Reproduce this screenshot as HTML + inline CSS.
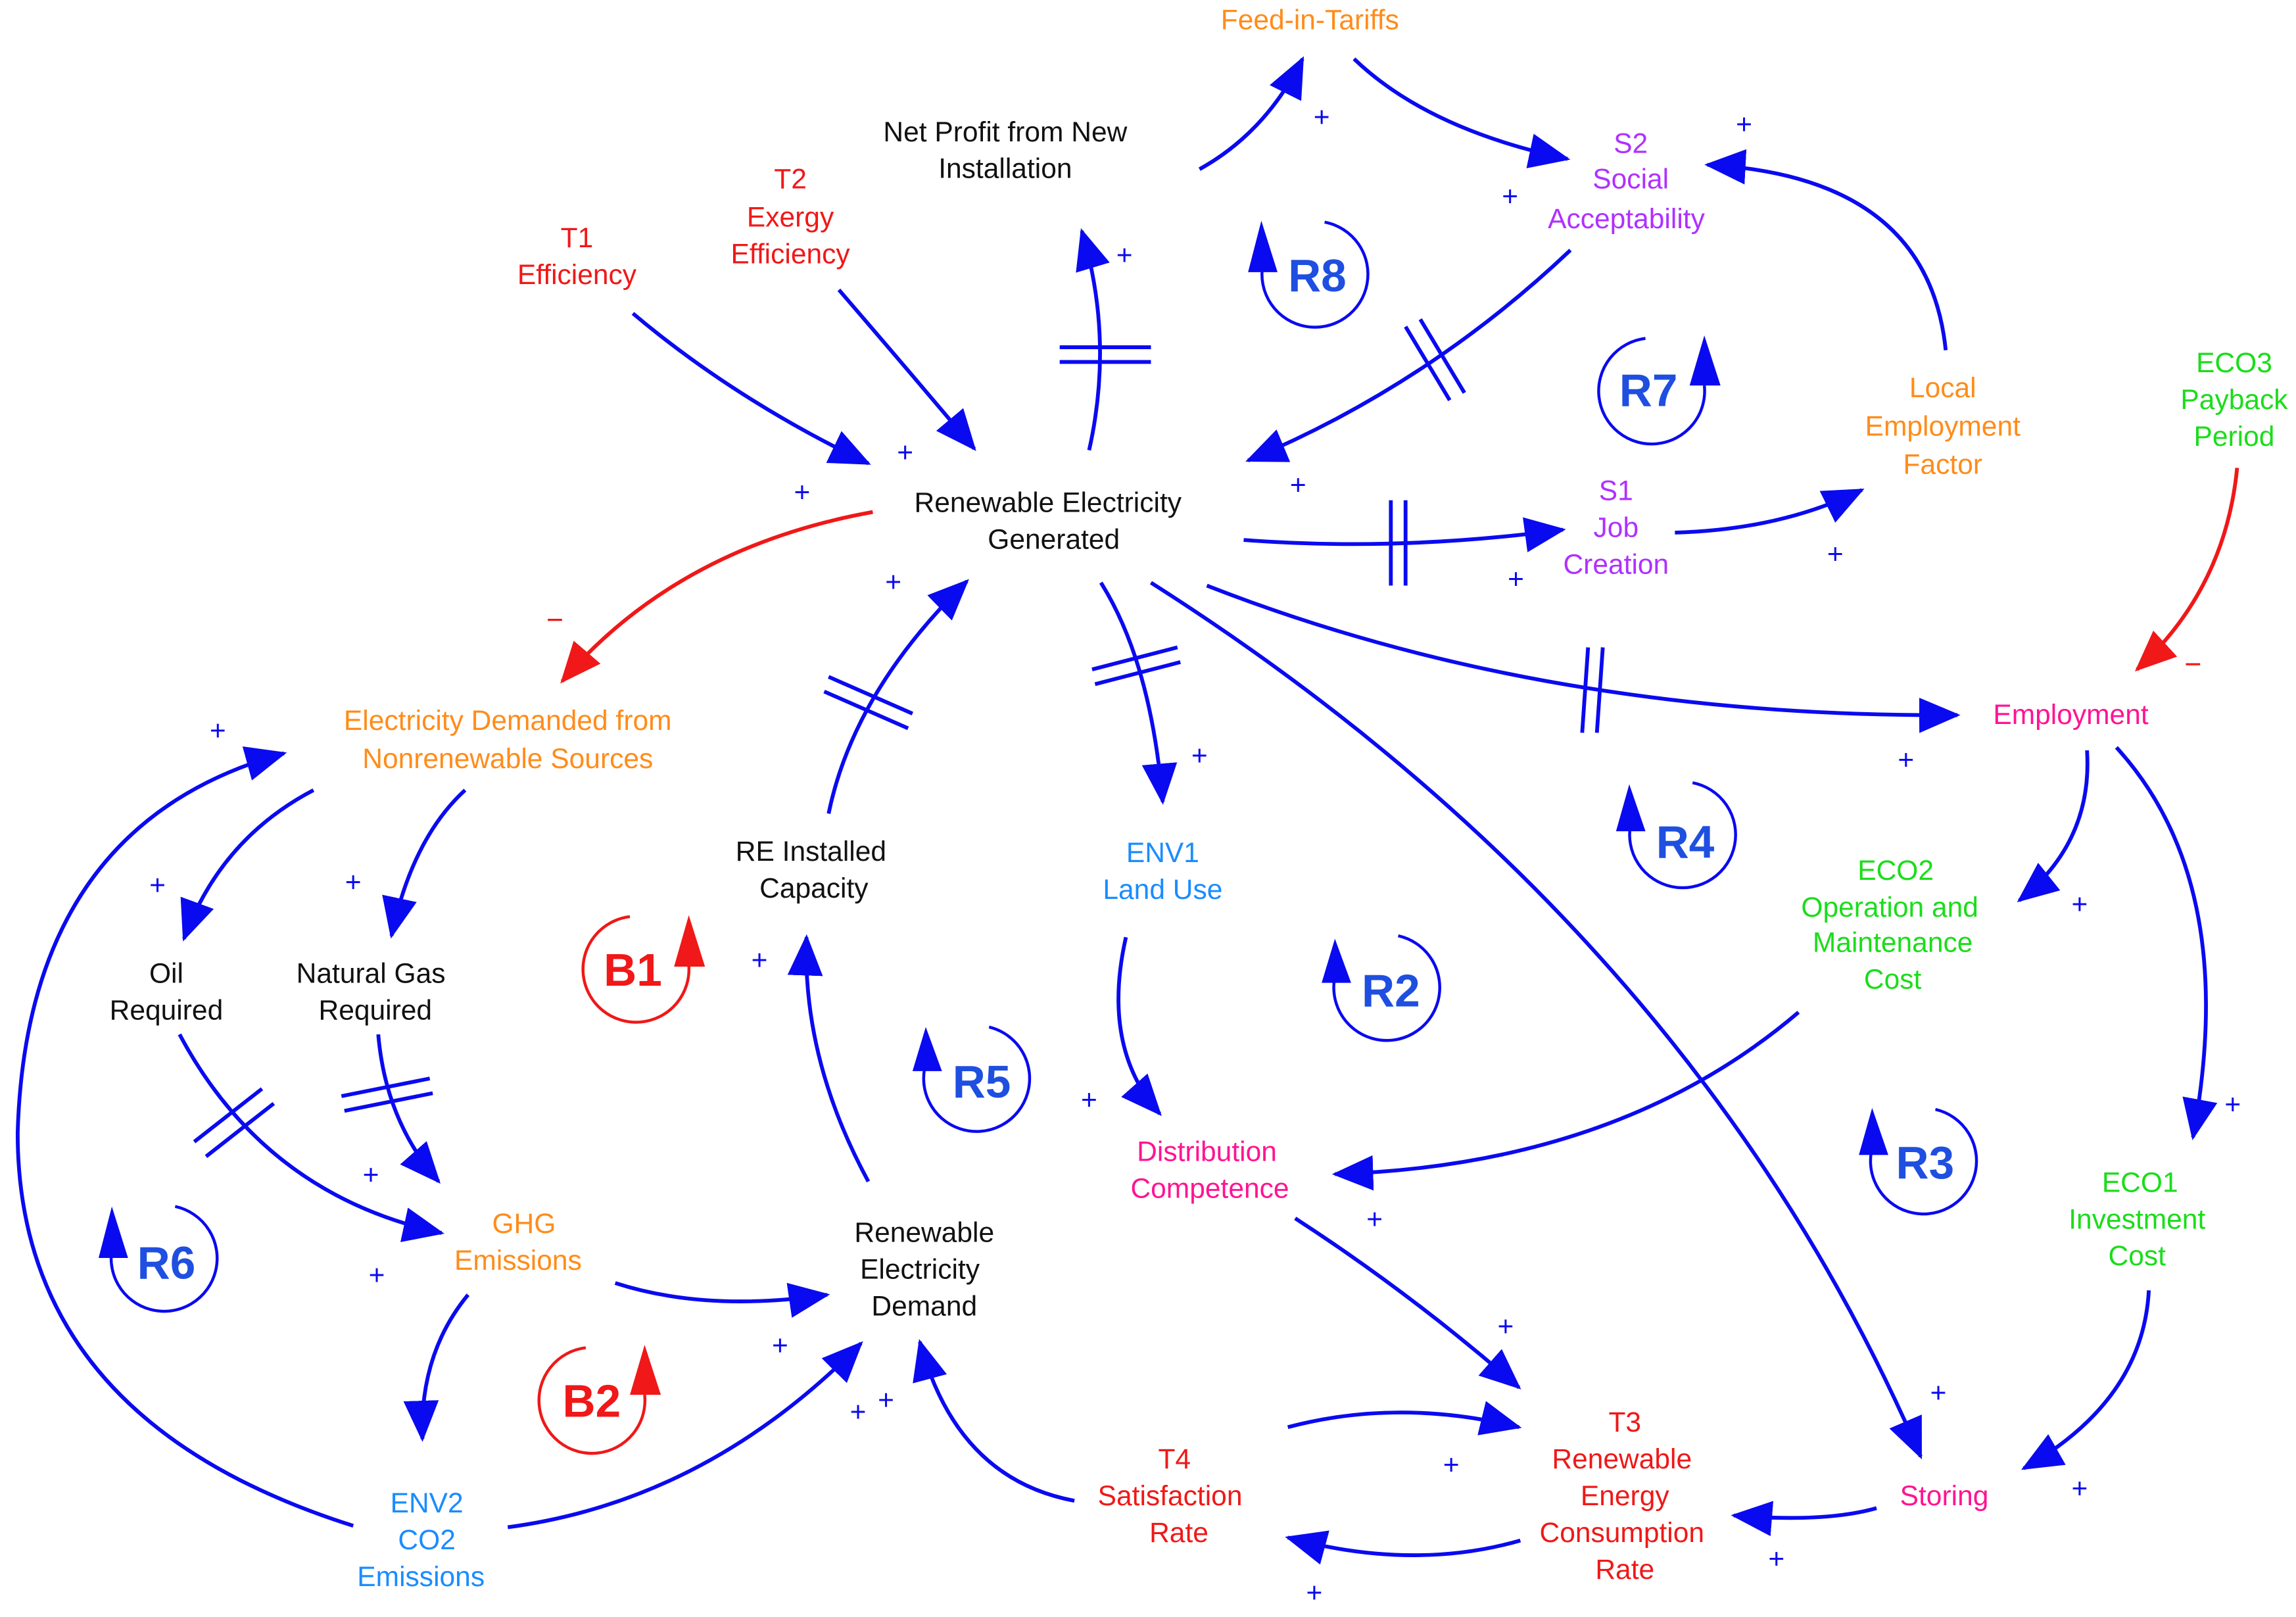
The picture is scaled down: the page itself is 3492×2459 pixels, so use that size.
<!DOCTYPE html>
<html><head><meta charset="utf-8"><style>
html,body{margin:0;padding:0;background:#fff;}
svg{display:block;}
text{font-family:"Liberation Sans",sans-serif;font-size:19px;text-anchor:middle;}
.bk{fill:#111}.or{fill:#ff8c1a}.rd{fill:#f01818}.pu{fill:#b030ff}.gr{fill:#1add1a}.bl{fill:#1a8cff}.mg{fill:#ff1493}
.e{fill:none;stroke:#0a0af0;stroke-width:2.6;marker-end:url(#ah);}
.er{fill:none;stroke:#f01818;stroke-width:2.6;marker-end:url(#ahr);}
.bar{stroke:#0a0af0;stroke-width:2.6;}
.p{fill:#0a0af0;font-size:19px;}
.lp{font-size:31px;font-weight:bold;}
.lc{fill:none;stroke-width:2;}
</style></head><body>
<svg width="3492" height="2459" viewBox="0 0 1560 1099" preserveAspectRatio="none" xmlns="http://www.w3.org/2000/svg">
<defs>
<marker id="ah" markerUnits="userSpaceOnUse" markerWidth="30" markerHeight="24" refX="26" refY="12" orient="auto"><path d="M0,0 L28,12 L0,24 Z" fill="#0a0af0"/></marker>
<marker id="ahr" markerUnits="userSpaceOnUse" markerWidth="30" markerHeight="24" refX="26" refY="12" orient="auto"><path d="M0,0 L28,12 L0,24 Z" fill="#f01818"/></marker>
</defs>

<!-- edges -->
<path class="e" d="M815,115 Q860,90 885,40"/>
<path class="e" d="M920,40 Q970,88 1065,108"/>
<path class="e" d="M1322,238 Q1310,120 1160,112"/>
<path class="e" d="M1067,170 Q970,262 848,313"/>
<path class="e" d="M430,213 Q500,272 590,315"/>
<path class="e" d="M570,197 Q620,255 662,305"/>
<path class="e" d="M740,306 Q757,230 735,157"/>
<path class="e" d="M845,367 Q950,375 1062,360"/>
<path class="e" d="M1138,362 Q1210,360 1265,333"/>
<path class="er" d="M1520,318 Q1512,400 1452,455"/>
<path class="e" d="M820,398 Q1050,488 1330,486"/>
<path class="er" d="M593,348 Q460,372 382,463"/>
<path class="e" d="M748,396 Q782,450 790,545"/>
<path class="e" d="M782,396 Q1150,630 1305,990"/>
<path class="e" d="M563,553 Q580,470 657,395"/>
<path class="e" d="M590,803 Q545,720 548,637"/>
<path class="e" d="M213,537 Q150,570 125,638"/>
<path class="e" d="M316,537 Q280,570 266,636"/>
<path class="e" d="M122,703 Q180,812 300,838"/>
<path class="e" d="M257,703 Q262,762 298,803"/>
<path class="e" d="M418,872 Q480,892 562,880"/>
<path class="e" d="M318,880 Q285,920 287,978"/>
<path class="e" d="M240,1037 Q12,965 12,770 Q18,560 193,512"/>
<path class="e" d="M345,1038 Q480,1020 585,913"/>
<path class="e" d="M765,637 Q748,712 788,757"/>
<path class="e" d="M1222,688 Q1100,792 907,798"/>
<path class="e" d="M880,828 Q960,880 1032,943"/>
<path class="e" d="M1418,510 Q1422,572 1372,612"/>
<path class="e" d="M1438,508 Q1522,600 1490,773"/>
<path class="e" d="M1460,877 Q1456,952 1375,998"/>
<path class="e" d="M1275,1025 Q1240,1035 1178,1030"/>
<path class="e" d="M1033,1047 Q960,1068 875,1045"/>
<path class="e" d="M875,970 Q950,950 1032,970"/>
<path class="e" d="M730,1020 Q650,1005 625,912"/>

<!-- delay bars -->
<line class="bar" x1="720" y1="236" x2="782" y2="236"/><line class="bar" x1="720" y1="246" x2="782" y2="246"/>
<line class="bar" x1="955" y1="222" x2="985" y2="272"/><line class="bar" x1="965" y1="217" x2="995" y2="267"/>
<line class="bar" x1="945" y1="340" x2="945" y2="398"/><line class="bar" x1="955" y1="340" x2="955" y2="398"/>
<line class="bar" x1="1079" y1="440" x2="1075" y2="498"/><line class="bar" x1="1089" y1="440" x2="1085" y2="498"/>
<line class="bar" x1="742" y1="455" x2="800" y2="440"/><line class="bar" x1="744" y1="465" x2="802" y2="450"/>
<line class="bar" x1="563" y1="460" x2="620" y2="485"/><line class="bar" x1="560" y1="470" x2="617" y2="495"/>
<line class="bar" x1="132" y1="776" x2="178" y2="740"/><line class="bar" x1="140" y1="786" x2="186" y2="750"/>
<line class="bar" x1="232" y1="745" x2="292" y2="733"/><line class="bar" x1="234" y1="755" x2="294" y2="743"/>

<!-- node labels -->
<text class="or" x="890" y="20">Feed-in-Tariffs</text>
<text class="bk" x="683" y="96">Net Profit from New</text><text class="bk" x="683" y="121">Installation</text>
<text class="rd" x="537" y="128">T2</text><text class="rd" x="537" y="154">Exergy</text><text class="rd" x="537" y="179">Efficiency</text>
<text class="rd" x="392" y="168">T1</text><text class="rd" x="392" y="193">Efficiency</text>
<text class="pu" x="1108" y="104">S2</text><text class="pu" x="1108" y="128">Social</text><text class="pu" x="1105" y="155">Acceptability</text>
<text class="or" x="1320" y="270">Local</text><text class="or" x="1320" y="296">Employment</text><text class="or" x="1320" y="322">Factor</text>
<text class="gr" x="1518" y="253">ECO3</text><text class="gr" x="1518" y="278">Payback</text><text class="gr" x="1518" y="303">Period</text>
<text class="bk" x="712" y="348">Renewable Electricity</text><text class="bk" x="716" y="373">Generated</text>
<text class="pu" x="1098" y="340">S1</text><text class="pu" x="1098" y="365">Job</text><text class="pu" x="1098" y="390">Creation</text>
<text class="mg" x="1407" y="492">Employment</text>
<text class="or" x="345" y="496">Electricity Demanded from</text><text class="or" x="345" y="522">Nonrenewable Sources</text>
<text class="bk" x="113" y="668">Oil</text><text class="bk" x="113" y="693">Required</text>
<text class="bk" x="252" y="668">Natural Gas</text><text class="bk" x="255" y="693">Required</text>
<text class="bk" x="551" y="585">RE Installed</text><text class="bk" x="553" y="610">Capacity</text>
<text class="bl" x="790" y="586">ENV1</text><text class="bl" x="790" y="611">Land Use</text>
<text class="gr" x="1288" y="598">ECO2</text><text class="gr" x="1284" y="623">Operation and</text><text class="gr" x="1286" y="647">Maintenance</text><text class="gr" x="1286" y="672">Cost</text>
<text class="mg" x="820" y="789">Distribution</text><text class="mg" x="822" y="814">Competence</text>
<text class="or" x="356" y="838">GHG</text><text class="or" x="352" y="863">Emissions</text>
<text class="bk" x="628" y="844">Renewable</text><text class="bk" x="625" y="869">Electricity</text><text class="bk" x="628" y="894">Demand</text>
<text class="gr" x="1454" y="810">ECO1</text><text class="gr" x="1452" y="835">Investment</text><text class="gr" x="1452" y="860">Cost</text>
<text class="rd" x="1104" y="973">T3</text><text class="rd" x="1102" y="998">Renewable</text><text class="rd" x="1104" y="1023">Energy</text><text class="rd" x="1102" y="1048">Consumption</text><text class="rd" x="1104" y="1073">Rate</text>
<text class="rd" x="798" y="998">T4</text><text class="rd" x="795" y="1023">Satisfaction</text><text class="rd" x="801" y="1048">Rate</text>
<text class="mg" x="1321" y="1023">Storing</text>
<text class="bl" x="290" y="1028">ENV2</text><text class="bl" x="290" y="1053">CO2</text><text class="bl" x="286" y="1078">Emissions</text>

<!-- polarity -->
<g class="p">
<text x="898" y="86">+</text><text x="1185" y="91">+</text><text x="1026" y="140">+</text><text x="764" y="180">+</text>
<text x="882" y="336">+</text><text x="1247" y="383">+</text><text x="1030" y="400">+</text><text x="615" y="314">+</text>
<text x="545" y="341">+</text><text x="607" y="402">+</text><text x="148" y="503">+</text><text x="815" y="520">+</text>
<text x="1295" y="523">+</text><text x="1413" y="621">+</text><text x="107" y="608">+</text><text x="240" y="606">+</text>
<text x="516" y="659">+</text><text x="740" y="754">+</text><text x="1517" y="757">+</text><text x="252" y="805">+</text>
<text x="256" y="873">+</text><text x="934" y="835">+</text><text x="1023" y="908">+</text><text x="530" y="921">+</text>
<text x="583" y="966">+</text><text x="602" y="958">+</text><text x="1317" y="953">+</text><text x="986" y="1002">+</text>
<text x="1413" y="1018">+</text><text x="1207" y="1066">+</text><text x="893" y="1089">+</text>
</g>
<text x="377" y="428" style="fill:#f01818;font-size:20px">−</text>
<text x="1490" y="458" style="fill:#f01818;font-size:20px">−</text>

<!-- loop symbols: blue, arrow left -->
<g stroke="#0a0af0" class="lc">
<path d="M858,180 A36,36 0 1 0 900,151"/>
<path d="M1108,560 A36,36 0 1 0 1150,532"/>
<path d="M908,660 A36,36 0 1 0 950,636"/>
<path d="M630,720 A36,36 0 1 0 672,698"/>
<path d="M1273,777 A36,36 0 1 0 1315,754"/>
<path d="M77,845 A36,36 0 1 0 119,820"/>
</g>
<g fill="#0a0af0">
<path d="M848,185 L857,150 L868,185 Z"/>
<path d="M1098,565 L1107,533 L1118,565 Z"/>
<path d="M898,668 L907,638 L918,668 Z"/>
<path d="M620,728 L629,698 L640,728 Z"/>
<path d="M1263,785 L1272,753 L1283,785 Z"/>
<path d="M67,855 L76,820 L87,855 Z"/>
</g>
<!-- arrow right: R7 -->
<path class="lc" stroke="#0a0af0" d="M1158,262 A36,36 0 1 1 1118,230"/>
<path d="M1148,262 L1158,228 L1169,262 Z" fill="#0a0af0"/>
<!-- red B1, B2 -->
<g stroke="#f01818" class="lc">
<path d="M468,656 A36,36 0 1 1 428,623"/>
<path d="M438,948 A36,36 0 1 1 398,916"/>
</g>
<g fill="#f01818">
<path d="M458,657 L468,622 L479,657 Z"/>
<path d="M428,948 L438,914 L449,948 Z"/>
</g>
<g class="lp" style="fill:#1f4fe0">
<text x="895" y="198" class="lp">R8</text>
<text x="1120" y="276" class="lp">R7</text>
<text x="1145" y="583" class="lp">R4</text>
<text x="945" y="684" class="lp">R2</text>
<text x="667" y="746" class="lp">R5</text>
<text x="1308" y="801" class="lp">R3</text>
<text x="113" y="869" class="lp">R6</text>
</g>
<g style="fill:#f01818">
<text x="430" y="670" class="lp">B1</text>
<text x="402" y="963" class="lp">B2</text>
</g>
</svg>
</body></html>
